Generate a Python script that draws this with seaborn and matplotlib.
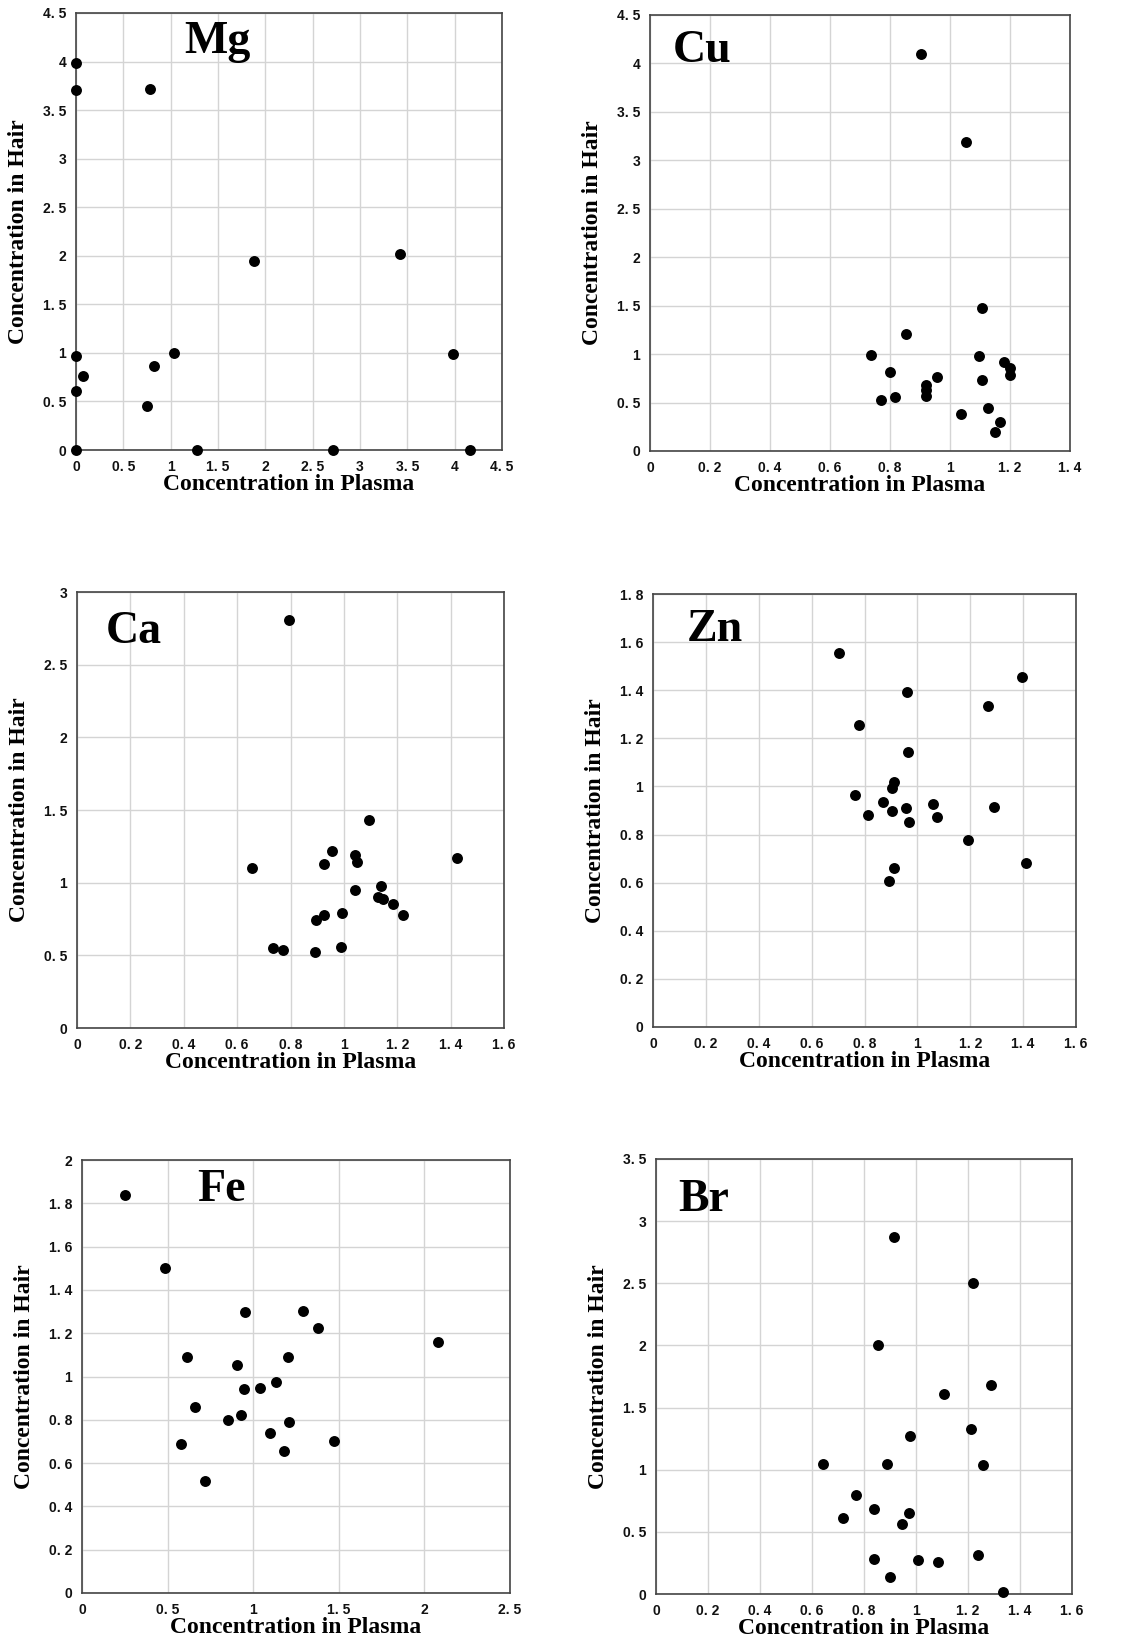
import numpy as np
import pandas as pd
import matplotlib
matplotlib.use("Agg")
import matplotlib.pyplot as plt
import seaborn as sns

# values (relative concentrations)
mg_plasma = [0, 0, 0.78, 1.88, 3.42, 0, 0.07, 0, 1.04, 0.82, 0.75, 3.98, 0, 1.28, 2.72, 4.16]
mg_hair = [3.98, 3.71, 3.72, 1.95, 2.02, 0.97, 0.76, 0.61, 1.00, 0.86, 0.45, 0.99, 0, 0, 0, 0]

cu_plasma = [0.902, 1.052, 1.108, 0.852, 0.736, 1.096, 1.179, 1.20, 1.20, 1.107, 0.80,
             0.956, 0.921, 0.92, 0.919, 0.77, 0.817, 1.037, 1.127, 1.166, 1.15]
cu_hair = [4.10, 3.19, 1.48, 1.21, 0.99, 0.98, 0.92, 0.86, 0.78, 0.73, 0.82,
           0.76, 0.68, 0.63, 0.57, 0.53, 0.56, 0.38, 0.44, 0.30, 0.20]

ca_plasma = [0.796, 0.654, 1.094, 0.956, 0.926, 1.041, 1.05, 1.425, 1.138, 1.043, 1.129,
             1.148, 1.185, 1.223, 0.994, 0.924, 0.894, 0.733, 0.773, 0.893, 0.988]
ca_hair = [2.81, 1.10, 1.43, 1.22, 1.13, 1.19, 1.14, 1.17, 0.98, 0.95, 0.90,
           0.89, 0.85, 0.78, 0.79, 0.78, 0.74, 0.55, 0.54, 0.52, 0.56]

zn_plasma = [0.702, 1.396, 0.962, 1.266, 0.779, 0.966, 0.91, 0.904, 0.764, 0.871, 0.958,
             0.904, 0.813, 1.06, 1.076, 1.289, 0.97, 1.19, 1.41, 0.91, 0.894]
zn_hair = [1.556, 1.455, 1.394, 1.336, 1.254, 1.142, 1.018, 0.993, 0.964, 0.935, 0.911,
           0.90, 0.882, 0.925, 0.875, 0.915, 0.853, 0.778, 0.681, 0.659, 0.606]

fe_plasma = [0.249, 0.483, 0.951, 1.292, 1.378, 2.077, 0.614, 1.206, 0.908, 1.136, 1.042,
             0.947, 0.661, 0.931, 0.852, 1.21, 1.101, 1.471, 0.577, 1.181, 0.721]
fe_hair = [1.84, 1.50, 1.297, 1.304, 1.222, 1.159, 1.091, 1.089, 1.055, 0.975, 0.949,
           0.94, 0.858, 0.824, 0.797, 0.79, 0.74, 0.703, 0.689, 0.655, 0.516]

br_plasma = [0.914, 1.219, 0.855, 1.288, 1.106, 1.21, 0.977, 0.644, 0.887, 1.256, 0.771,
             0.718, 0.837, 0.972, 0.947, 0.84, 1.006, 1.083, 1.237, 0.901, 1.336]
br_hair = [2.876, 2.50, 2.0, 1.683, 1.613, 1.33, 1.273, 1.045, 1.043, 1.037, 0.793,
           0.614, 0.683, 0.649, 0.563, 0.279, 0.271, 0.26, 0.314, 0.134, 0.019]

sns.set_style("whitegrid")
plt.rcParams['font.family'] = ['Liberation Serif', 'DejaVu Serif']
plt.rcParams['text.color'] = 'black'
plt.rcParams['axes.labelcolor'] = 'black'

W, H = 1143, 1646
fig = plt.figure(figsize=(W / 100, H / 100), dpi=100)

# name, x, y, xmax, xstep, ymax, ystep, axes box in px (left, top, right, bottom), label pos
panels = [
    ("Mg", mg_plasma, mg_hair, 4.5, 0.5, 4.5, 0.5, (76, 13, 502, 450), (0.255, 0.908)),
    ("Cu", cu_plasma, cu_hair, 1.4, 0.2, 4.5, 0.5, (650, 15, 1070, 451), (0.055, 0.892)),
    ("Ca", ca_plasma, ca_hair, 1.6, 0.2, 3.0, 0.5, (77, 592, 504, 1028), (0.068, 0.883)),
    ("Zn", zn_plasma, zn_hair, 1.6, 0.2, 1.8, 0.2, (653, 594, 1076, 1027), (0.08, 0.891)),
    ("Fe", fe_plasma, fe_hair, 2.5, 0.5, 2.0, 0.2, (82, 1160, 510, 1593), (0.27, 0.905)),
    ("Br", br_plasma, br_hair, 1.6, 0.2, 3.5, 0.5, (656, 1159, 1072, 1594), (0.053, 0.88)),
]


def fmt(v):
    s = ("%.1f" % v).rstrip("0").rstrip(".")
    return s.replace(".", ". ")


for name, px, hy, xmax, xstep, ymax, ystep, box, lab in panels:
    l, t, r, b = box
    ax = fig.add_axes([l / W, 1 - b / H, (r - l) / W, (b - t) / H])
    df = pd.DataFrame({"plasma": px, "hair": hy})
    sns.scatterplot(data=df, x="plasma", y="hair", ax=ax, color="black",
                    s=62, edgecolor="black", linewidth=0, clip_on=False, zorder=3)
    ax.set_xlim(0, xmax)
    ax.set_ylim(0, ymax)
    xt = np.round(np.arange(0, xmax + xstep / 2, xstep), 2)
    yt = np.round(np.arange(0, ymax + ystep / 2, ystep), 2)
    ax.set_xticks(xt)
    ax.set_yticks(yt)
    ax.set_xticklabels([fmt(v) for v in xt], family="Liberation Sans",
                       fontweight="bold", fontsize=10, color="#111111")
    ax.set_yticklabels([fmt(v) for v in yt], family="Liberation Sans",
                       fontweight="bold", fontsize=10, color="#111111")
    ax.tick_params(axis="x", length=0, pad=7)
    ax.tick_params(axis="y", length=0, pad=7)
    ax.grid(True, color="#d4d4d4", linewidth=1)
    for sp in ax.spines.values():
        sp.set_color("#444444")
        sp.set_linewidth(1.2)
    ax.set_facecolor("white")
    ax.set_xlabel("Concentration in Plasma", fontsize=17, fontweight="bold", labelpad=0)
    ax.set_ylabel("Concentration in Hair", fontsize=17, fontweight="bold", labelpad=10)
    ax.text(lab[0], lab[1], name, transform=ax.transAxes, fontsize=33,
            fontweight="bold", ha="left", va="baseline")

fig.savefig("out.png", dpi=100, facecolor="white")
